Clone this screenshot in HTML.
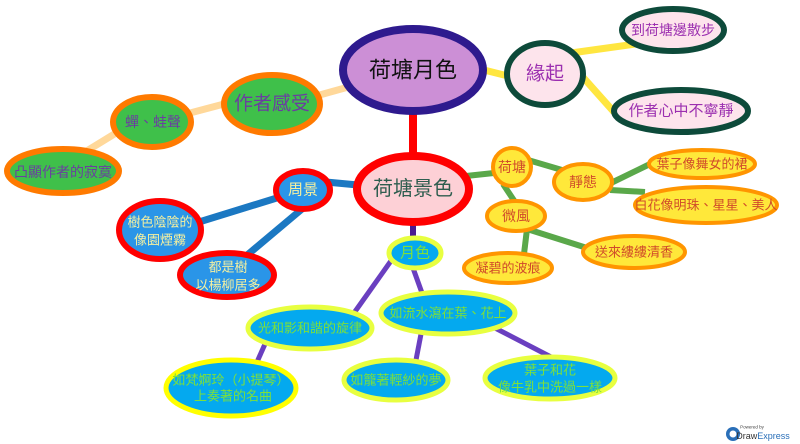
<!DOCTYPE html>
<html><head><meta charset="utf-8"><style>
html,body{margin:0;padding:0;background:#fff;width:800px;height:444px;overflow:hidden}
text{font-family:"Liberation Sans","Noto Sans CJK TC",sans-serif;text-anchor:middle;dominant-baseline:central}
</style></head><body>
<svg width="800" height="444" viewBox="0 0 800 444" xmlns="http://www.w3.org/2000/svg">
<g stroke-linecap="butt" fill="none">
<g stroke="#ffd89a" stroke-width="7">
<line x1="352" y1="86" x2="316" y2="96"/><line x1="224" y1="104" x2="190" y2="113"/><line x1="116" y1="133" x2="85" y2="152"/>
</g>
<g stroke="#ffe640" stroke-width="7">
<line x1="484" y1="70" x2="508" y2="76"/><line x1="571" y1="53" x2="636" y2="44"/><line x1="581" y1="75" x2="614" y2="112"/>
</g>
<line x1="413" y1="112" x2="413" y2="156" stroke="#ff0000" stroke-width="8"/>
<g stroke="#1b78c2" stroke-width="7">
<line x1="358" y1="185" x2="326" y2="182"/><line x1="280" y1="197" x2="199" y2="222"/><line x1="302" y1="209" x2="246" y2="256"/>
</g>
<line x1="413" y1="223" x2="413" y2="240" stroke="#4a1a90" stroke-width="6"/>
<g stroke="#6a3fc0" stroke-width="5">
<line x1="393" y1="258" x2="354" y2="313"/><line x1="413" y1="268" x2="422" y2="293"/><line x1="265" y1="344" x2="257" y2="362"/><line x1="421" y1="334" x2="416" y2="360"/><line x1="495" y1="328" x2="553" y2="358"/>
</g>
<g stroke="#5aa84a" stroke-width="6">
<line x1="466" y1="176" x2="494" y2="173"/><line x1="528" y1="160" x2="562" y2="170"/><line x1="503" y1="184" x2="515" y2="202"/><line x1="611" y1="183" x2="650" y2="164"/><line x1="610" y1="190" x2="645" y2="192"/><line x1="527" y1="229" x2="524" y2="254"/><line x1="527" y1="229" x2="587" y2="248"/>
</g>
</g>

<ellipse cx="413" cy="70" rx="70" ry="41" fill="#cc8fd6" stroke="#2e1a8e" stroke-width="8"/>
<text x="413" y="70" font-size="22" fill="#111">荷塘月色</text>

<g fill="#fde4ec" stroke="#0d4a3a" stroke-width="6">
<ellipse cx="545" cy="74" rx="38" ry="31"/>
<ellipse cx="673" cy="30" rx="51" ry="21"/>
<ellipse cx="681" cy="111" rx="67" ry="21"/>
</g>
<g fill="#9b2fb0">
<text x="545" y="74" font-size="19">緣起</text>
<text x="673" y="30" font-size="14">到荷塘邊散步</text>
<text x="681" y="111" font-size="15">作者心中不寧靜</text>
</g>

<g fill="#3fc04a" stroke="#ff7a00" stroke-width="6">
<ellipse cx="272" cy="104" rx="48" ry="29"/>
<ellipse cx="152" cy="122" rx="39" ry="25"/>
<ellipse cx="63" cy="171" rx="56" ry="22"/>
</g>
<g fill="#6a3fa0">
<text x="272" y="104" font-size="19">作者感受</text>
<text x="153" y="122" font-size="14">蟬、蛙聲</text>
<text x="63" y="172" font-size="14">凸顯作者的寂寞</text>
</g>

<ellipse cx="413" cy="189" rx="56" ry="33" fill="#fdd0d6" stroke="#ff0000" stroke-width="8"/>
<text x="413" y="189" font-size="20" fill="#2e5d4f">荷塘景色</text>

<g fill="#2a95e8" stroke="#ff0000" stroke-width="6">
<ellipse cx="303" cy="190" rx="27" ry="19"/>
<ellipse cx="160" cy="230" rx="41" ry="29"/>
<ellipse cx="227" cy="275" rx="47" ry="22"/>
</g>
<g fill="#f4f0a0" font-size="13">
<text x="303" y="190" font-size="15">周景</text>
<text x="160" y="222">樹色陰陰的</text>
<text x="160" y="240">像園煙霧</text>
<text x="228" y="267">都是樹</text>
<text x="228" y="285">以楊柳居多</text>
</g>

<g fill="#04a9ef" stroke="#e8ff40" stroke-width="5">
<ellipse cx="415" cy="253" rx="26" ry="15"/>
<ellipse cx="310" cy="328" rx="62" ry="21"/>
<ellipse cx="448" cy="313" rx="67" ry="21"/>
<ellipse cx="231" cy="388" rx="65" ry="28" stroke="#ffff00"/>
<ellipse cx="396" cy="380" rx="52" ry="20"/>
<ellipse cx="550" cy="378" rx="65" ry="21"/>
</g>
<g fill="#7de03a" font-size="13">
<text x="415" y="253" font-size="15">月色</text>
<text x="310" y="328">光和影和諧的旋律</text>
<text x="448" y="313">如流水瀉在葉、花上</text>
<text x="231" y="380">如梵婀玲（小提琴）</text>
<text x="233" y="396">上奏著的名曲</text>
<text x="396" y="380">如籠著輕紗的夢</text>
<text x="550" y="370">葉子和花</text>
<text x="550" y="387">像牛乳中洗過一樣</text>
</g>

<g fill="#ffe83a" stroke="#ff9500" stroke-width="4">
<ellipse cx="512" cy="167" rx="19" ry="19"/>
<ellipse cx="583" cy="182" rx="29" ry="18"/>
<ellipse cx="516" cy="216" rx="29" ry="15"/>
<ellipse cx="508" cy="268" rx="44" ry="15"/>
<ellipse cx="634" cy="252" rx="51" ry="16"/>
<ellipse cx="702" cy="164" rx="53" ry="14"/>
<ellipse cx="706" cy="205" rx="71" ry="18"/>
</g>
<g fill="#d04a2a" font-size="13">
<text x="512" y="167" font-size="14">荷塘</text>
<text x="583" y="182" font-size="14">靜態</text>
<text x="516" y="216" font-size="14">微風</text>
<text x="508" y="268">凝碧的波痕</text>
<text x="634" y="252">送來縷縷清香</text>
<text x="702" y="164">葉子像舞女的裙</text>
<text x="706" y="205">白花像明珠、星星、美人</text>
</g>

<circle cx="733" cy="434" r="7" fill="#2a6fb8"/>
<circle cx="733" cy="434" r="3.5" fill="#fff"/>
<text x="752" y="427" font-size="4.5" fill="#444">Powered by</text>
<text x="763" y="436" font-size="9" fill="#2a6fb8"><tspan fill="#333">Draw</tspan>Express</text>
</svg>
</body></html>
